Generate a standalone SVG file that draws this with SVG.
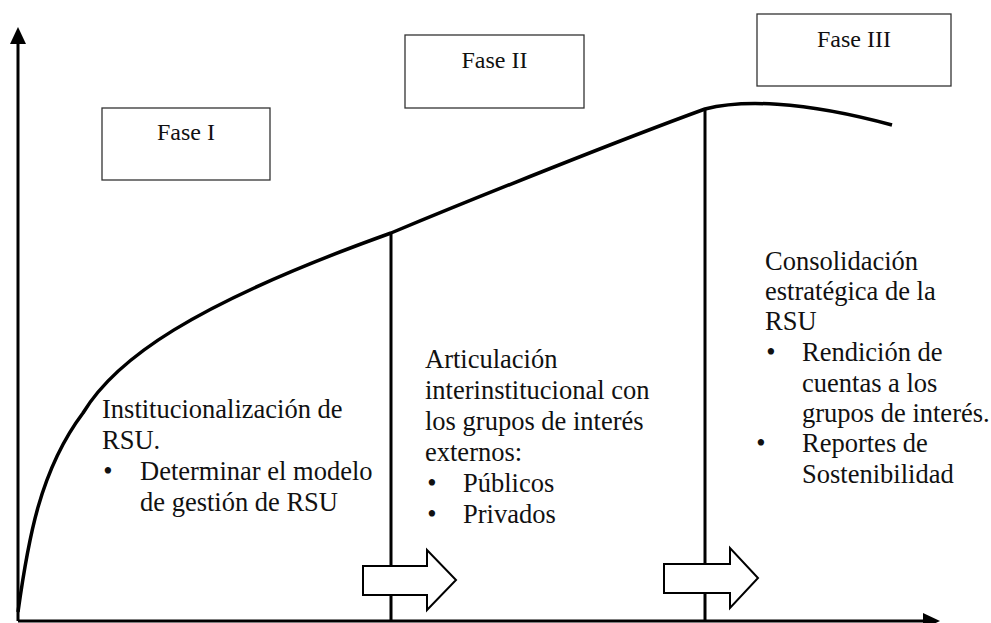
<svg xmlns="http://www.w3.org/2000/svg" width="991" height="623" viewBox="0 0 991 623">
<style>
  .box { fill: #ffffff; stroke: #333333; stroke-width: 1.3; }
  .lbl { font-family: "Liberation Serif", "Times New Roman", serif; font-size: 24px; fill: #111111; text-anchor: middle; }
  .txt { font-family: "Liberation Serif", "Times New Roman", serif; font-size: 26.5px; fill: #111111; }
  .bul { font-family: "Liberation Serif", "Times New Roman", serif; font-size: 26.5px; fill: #111111; text-anchor: middle; }
  .ax { stroke: #000000; stroke-width: 3; fill: none; }
  .curve { stroke: #000000; stroke-width: 3.5; fill: none; }
  .vline { stroke: #000000; stroke-width: 3; fill: none; }
  .blk { fill: #ffffff; stroke: #000000; stroke-width: 2; stroke-linejoin: miter; }
</style>
<rect width="991" height="623" fill="#ffffff"/>

<g id="connectors">
  <line class="ax" x1="18" y1="621" x2="18" y2="42"/>
  <polygon points="18,27 26,44 10,44" fill="#000000"/>
  <line class="ax" x1="18" y1="621" x2="924" y2="621"/>
  <polygon points="940,621 923,613 923,629" fill="#000000"/>
  <path class="curve" d="M18,612 C28,540 40,470 83,413 C115,360 190,305 391,233 C480,196 620,140 705,109 C740,100 800,100 892,125"/>
  <line class="vline" x1="391" y1="233" x2="391" y2="621"/>
  <line class="vline" x1="705" y1="109" x2="705" y2="621"/>
  <polygon class="blk" points="363,566 427,566 427,550 456,580 427,610 427,595 363,595"/>
  <polygon class="blk" points="664,564 730,564 730,548 758,578 730,608 730,593 664,593"/>
</g>

<g id="fase1">
  <rect class="box" x="102" y="108" width="168" height="72"/>
  <text class="lbl" x="186" y="140">Fase I</text>
</g>
<g id="fase2">
  <rect class="box" x="405" y="35" width="179" height="73"/>
  <text class="lbl" x="494.5" y="68">Fase II</text>
</g>
<g id="fase3">
  <rect class="box" x="757" y="14" width="194" height="72"/>
  <text class="lbl" x="854" y="47">Fase III</text>
</g>

<g id="texto1">
  <text class="txt" x="102" y="418">Institucionalización de</text>
  <text class="txt" x="102" y="449">RSU.</text>
  <text class="bul" x="108" y="480">•</text>
  <text class="txt" x="140" y="480">Determinar el modelo</text>
  <text class="txt" x="140" y="511">de gestión de RSU</text>
</g>

<g id="texto2">
  <text class="txt" x="425" y="368">Articulación</text>
  <text class="txt" x="425" y="399">interinstitucional con</text>
  <text class="txt" x="425" y="430">los grupos de interés</text>
  <text class="txt" x="425" y="461">externos:</text>
  <text class="bul" x="432" y="492">•</text>
  <text class="txt" x="463" y="492">Públicos</text>
  <text class="bul" x="432" y="523">•</text>
  <text class="txt" x="463" y="523">Privados</text>
</g>

<g id="texto3">
  <text class="txt" x="765" y="270">Consolidación</text>
  <text class="txt" x="765" y="300">estratégica de la</text>
  <text class="txt" x="765" y="330">RSU</text>
  <text class="bul" x="771" y="361">•</text>
  <text class="txt" x="802" y="361">Rendición de</text>
  <text class="txt" x="802" y="392">cuentas a los</text>
  <text class="txt" x="802" y="422">grupos de interés.</text>
  <text class="bul" x="761" y="452">•</text>
  <text class="txt" x="802" y="452">Reportes de</text>
  <text class="txt" x="802" y="483">Sostenibilidad</text>
</g>
</svg>
